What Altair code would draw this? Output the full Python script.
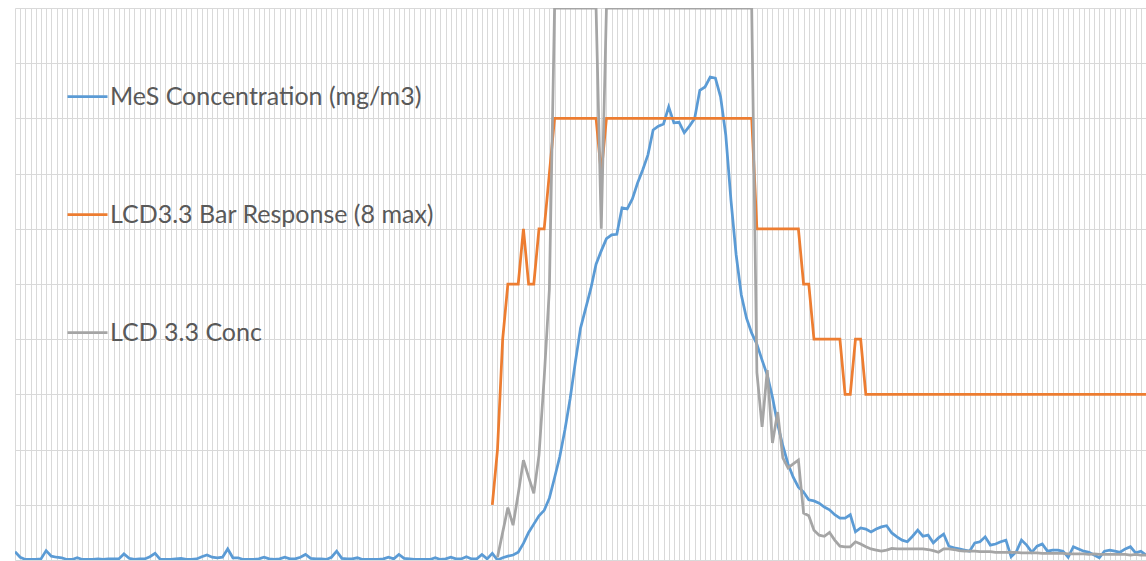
import altair as alt
import pandas as pd

SERIES = ["MeS Concentration (mg/m3)", "LCD3.3 Bar Response (8 max)", "LCD 3.3 Conc"]
COLORS = ["#5B9BD5", "#ED7D31", "#A5A5A5"]

# MeS Concentration, one value per sample (index 0..218)
BLUE = [
    0.15, 0.05, 0.01, 0.01, 0.01, 0.02, 0.17, 0.07, 0.05, 0.04,
    0.01, 0.01, 0.04, 0.01, 0.01, 0.01, 0.02, 0.01, 0.02, 0.02,
    0.02, 0.11, 0.03, 0.01, 0.02, 0.02, 0.06, 0.12, 0.01, 0.01,
    0.01, 0.02, 0.03, 0.01, 0.01, 0.02, 0.06, 0.09, 0.05, 0.04,
    0.05, 0.20, 0.04, 0.04, 0.01, 0.01, 0.01, 0.02, 0.05, 0.02,
    0.01, 0.02, 0.05, 0.02, 0.02, 0.05, 0.10, 0.03, 0.02, 0.02,
    0.01, 0.05, 0.16, 0.03, 0.02, 0.02, 0.04, 0.01, 0.01, 0.01,
    0.01, 0.02, 0.05, 0.02, 0.10, 0.03, 0.02, 0.01, 0.01, 0.01,
    0.01, 0.04, 0.01, 0.02, 0.05, 0.02, 0.02, 0.06, 0.02, 0.02,
    0.10, 0.02, 0.12, 0.00, 0.04, 0.07, 0.09, 0.14, 0.30, 0.50,
    0.65, 0.80, 0.90, 1.12, 1.49, 1.87, 2.36, 2.92, 3.58, 4.20,
    4.56, 4.92, 5.36, 5.60, 5.82, 5.89, 5.90, 6.38, 6.36, 6.54,
    6.83, 7.07, 7.34, 7.79, 7.86, 7.90, 8.21, 7.92, 7.93, 7.74,
    7.86, 8.00, 8.51, 8.57, 8.75, 8.73, 8.39, 7.70, 6.52, 5.53,
    4.80, 4.38, 4.11, 3.91, 3.62, 3.35, 2.95, 2.46, 2.07, 1.74,
    1.50, 1.32, 1.23, 1.09, 1.07, 1.03, 0.96, 0.91, 0.82, 0.76,
    0.76, 0.82, 0.51, 0.58, 0.56, 0.51, 0.56, 0.60, 0.62, 0.49,
    0.42, 0.36, 0.33, 0.43, 0.54, 0.43, 0.45, 0.31, 0.40, 0.47,
    0.25, 0.22, 0.20, 0.18, 0.16, 0.31, 0.33, 0.42, 0.27, 0.29,
    0.33, 0.36, 0.06, 0.15, 0.36, 0.27, 0.14, 0.25, 0.29, 0.16,
    0.18, 0.18, 0.16, 0.05, 0.24, 0.20, 0.16, 0.14, 0.09, 0.04,
    0.16, 0.18, 0.16, 0.14, 0.20, 0.24, 0.13, 0.16, 0.09,
]

# LCD3.3 Bar Response, starting at sample 92
ORANGE_START = 92
ORANGE = [
    1, 2, 4, 5, 5, 5, 6, 5, 5, 6, 6, 7,
    8, 8, 8, 8, 8, 8, 8, 8, 8,
    7,
    8, 8, 8, 8, 8, 8, 8, 8, 8, 8, 8, 8, 8, 8, 8, 8, 8, 8, 8, 8, 8, 8, 8, 8, 8, 8, 8, 8, 8,
    6, 6, 6, 6, 6, 6, 6, 6, 6,
    5, 5,
    4, 4, 4, 4, 4, 4,
    3, 3, 4, 4,
    3, 3, 3, 3, 3, 3, 3, 3, 3, 3, 3, 3, 3, 3, 3, 3, 3, 3, 3, 3, 3, 3, 3, 3, 3, 3, 3, 3,
    3, 3, 3, 3, 3, 3, 3, 3, 3, 3, 3, 3, 3, 3, 3, 3, 3, 3, 3, 3, 3, 3, 3, 3, 3, 3, 3,
]

# LCD 3.3 Conc, starting at sample 93 (axis max is 10)
GRAY_START = 93
GRAY = [
    0.05, 0.50, 0.95, 0.63, 1.20, 1.81, 1.50, 1.21, 1.90, 3.30, 4.90,
    10, 10, 10, 10, 10, 10, 10, 10, 10,
    6,
    10, 10, 10, 10, 10, 10, 10, 10, 10, 10, 10, 10, 10, 10, 10, 10, 10, 10, 10, 10, 10, 10, 10, 10, 10, 10, 10, 10, 10,
    3.40, 2.41, 3.44, 2.12, 2.68, 1.85, 1.67, 1.74, 1.81, 0.85,
    0.80, 0.54, 0.45, 0.43, 0.50, 0.36, 0.25, 0.24, 0.24, 0.33,
    0.29, 0.24, 0.20, 0.18, 0.16, 0.18, 0.21, 0.20, 0.20, 0.20,
    0.20, 0.20, 0.20, 0.19, 0.17, 0.14, 0.20, 0.20, 0.19, 0.17,
    0.16, 0.16, 0.16, 0.15, 0.15, 0.15, 0.14, 0.14, 0.14, 0.14,
    0.14, 0.13, 0.13, 0.13, 0.13, 0.12, 0.12, 0.12, 0.12, 0.12,
    0.11, 0.11, 0.11, 0.11, 0.10, 0.11, 0.10, 0.10, 0.10, 0.10,
    0.10, 0.10, 0.09, 0.10, 0.09, 0.09,
]

LAST = len(BLUE) - 1

rows = []
for i, v in enumerate(BLUE):
    rows.append({"t": i, "v": v, "s": SERIES[0]})
for i, v in enumerate(ORANGE):
    rows.append({"t": ORANGE_START + i, "v": v, "s": SERIES[1]})
for i, v in enumerate(GRAY):
    rows.append({"t": GRAY_START + i, "v": v, "s": SERIES[2]})
df = pd.DataFrame(rows)

chart = alt.Chart(df).mark_line(strokeWidth=2.75, clip=True).encode(
    x=alt.X(
        "t:Q",
        scale=alt.Scale(domain=[0, LAST], nice=False, zero=False),
        axis=alt.Axis(values=list(range(LAST + 1)), labels=False, ticks=False,
                      domain=False, title=None, grid=True,
                      gridColor="#D9D9D9", gridWidth=1),
    ),
    y=alt.Y(
        "v:Q",
        scale=alt.Scale(domain=[0, 10], nice=False),
        axis=alt.Axis(values=list(range(11)), labels=False, ticks=False,
                      domain=False, title=None, grid=True,
                      gridColor="#D9D9D9", gridWidth=1),
    ),
    color=alt.Color(
        "s:N",
        scale=alt.Scale(domain=SERIES, range=COLORS),
        legend=alt.Legend(
            orient="none", legendX=51, legendY=67, title=None,
            direction="vertical",
            symbolType="stroke", symbolSize=1600, symbolStrokeWidth=2.75,
            labelFont="Lato", labelFontSize=25, labelColor="#595959",
            labelLimit=0, labelOffset=1, rowPadding=83, padding=0,
        ),
    ),
).properties(
    width=1131, height=552,
    padding={"left": 15, "top": 8, "right": 0, "bottom": 1},
    autosize="none",
).configure_view(stroke=None)

chart.save("out.html", embed_options={"renderer": "svg", "actions": False})
